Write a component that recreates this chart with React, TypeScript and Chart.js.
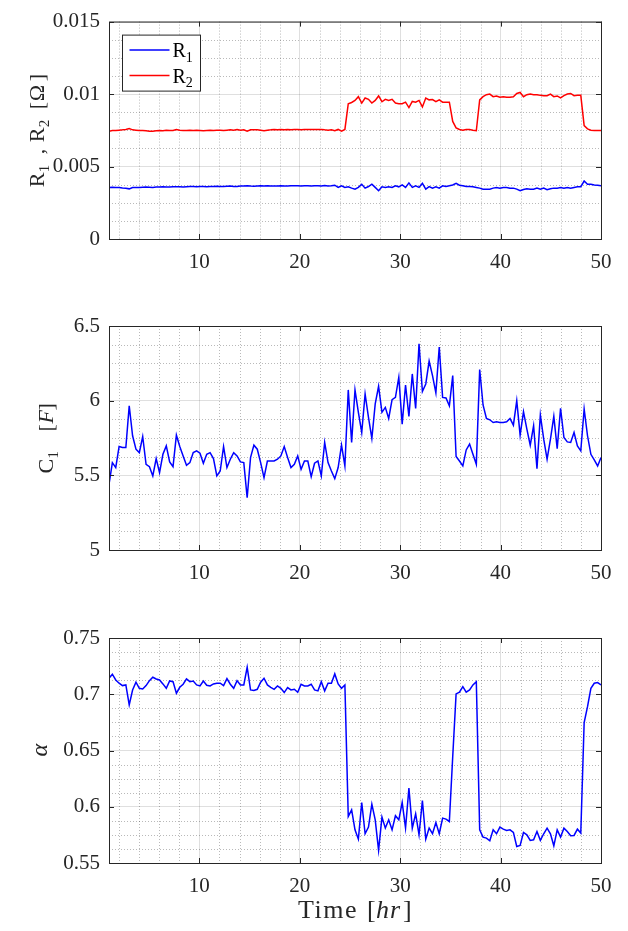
import React, { useEffect, useRef } from 'react';
import { Chart, registerables } from 'chart.js';

Chart.register(...registerables);

// ---------------- data ----------------
const T_START = 1;
const T_END = 50;

const R1 = [
  0.00356, 0.00357, 0.00355, 0.00356, 0.00352, 0.0035, 0.00346, 0.00355, 0.00356, 0.00355,
  0.00357, 0.00358, 0.00357, 0.00356, 0.00358, 0.00359, 0.0036, 0.00359, 0.00358, 0.0036,
  0.00361, 0.0036, 0.00359, 0.00361, 0.00362, 0.00362, 0.00361, 0.00363, 0.00362, 0.00361,
  0.00362, 0.00363, 0.00364, 0.00363, 0.00362, 0.00364, 0.00365, 0.00363, 0.00362, 0.00366,
  0.00365, 0.00368, 0.00365, 0.00364, 0.00366, 0.00367, 0.00366, 0.00368, 0.00366, 0.00365,
  0.00366, 0.00367, 0.00366, 0.00365, 0.00367, 0.00368, 0.00367, 0.00366, 0.00368, 0.00367,
  0.00366, 0.00368, 0.00367, 0.00366, 0.00369, 0.00366,
  0.00367, 0.00371, 0.00356, 0.00367, 0.00356, 0.0036, 0.00351, 0.00344, 0.00356,
  0.00378, 0.00351, 0.00362, 0.00378, 0.00356, 0.00333, 0.0036, 0.00356, 0.0036, 0.00356,
  0.00367, 0.0036, 0.00373, 0.00356, 0.00387, 0.00356, 0.00367, 0.00356, 0.00384, 0.00344,
  0.00362, 0.00351, 0.0036, 0.00351, 0.00367, 0.00362, 0.00367, 0.00373, 0.00384, 0.00371,
  0.00367, 0.00362, 0.00362, 0.0036, 0.00356, 0.00351, 0.00344, 0.00344, 0.00344, 0.00351,
  0.00356, 0.00351, 0.00356, 0.00356, 0.00351, 0.00351, 0.00344, 0.00333, 0.00342, 0.00347,
  0.00344, 0.00344, 0.00351, 0.00344, 0.00351, 0.0034, 0.00347, 0.00351, 0.00351, 0.00356,
  0.00351, 0.00356, 0.00351, 0.00356, 0.0036, 0.0036,
  0.004, 0.00378, 0.00378, 0.00373, 0.00371, 0.00367,
];

const R2 = [
  0.00744, 0.00749, 0.00749, 0.00751, 0.00753, 0.00756, 0.00762, 0.00753, 0.00751, 0.00749,
  0.00749, 0.00747, 0.00744, 0.00744, 0.00747, 0.00749, 0.00747, 0.00751, 0.00749, 0.00749,
  0.00756, 0.00751, 0.00749, 0.00749, 0.00751, 0.00749, 0.00751, 0.00749, 0.00747, 0.00749,
  0.00751, 0.00749, 0.00751, 0.00751, 0.00749, 0.00751, 0.00753, 0.00751, 0.00756, 0.00751,
  0.00753, 0.00744, 0.00753, 0.00753, 0.00753, 0.00751, 0.00747, 0.00751, 0.00753, 0.00756,
  0.00753, 0.00756, 0.00753, 0.00756, 0.00753, 0.00756, 0.00756, 0.00753, 0.00756, 0.00756,
  0.00756, 0.00756, 0.00756, 0.00756, 0.00753, 0.00751, 0.00753, 0.00747, 0.00756, 0.00744,
  0.00756,
  0.00933, 0.00942, 0.00956, 0.00982, 0.00938, 0.00973, 0.00964, 0.00938, 0.00956, 0.00987,
  0.00947, 0.00964, 0.00956, 0.00964, 0.00938, 0.00933, 0.00933, 0.00944, 0.00907, 0.00949,
  0.00944, 0.00956, 0.00911, 0.00973, 0.0096, 0.00962, 0.00947, 0.0096, 0.00944, 0.00944,
  0.00944, 0.00811, 0.00767, 0.00756, 0.00751, 0.00756, 0.00756, 0.00751, 0.00747, 0.0096,
  0.00982, 0.00996, 0.01, 0.00982, 0.00987, 0.00978, 0.00982, 0.00978, 0.00978, 0.00982,
  0.01004, 0.01011, 0.00982, 0.00996, 0.01, 0.00996, 0.00996, 0.00991, 0.00989, 0.00989,
  0.01, 0.00982, 0.00987, 0.00973, 0.00989, 0.01, 0.01004, 0.00989, 0.00991, 0.00991,
  0.00782, 0.0076, 0.00751, 0.00749, 0.00749, 0.00749,
];

const C1 = [
  5.439, 5.585, 5.552, 5.693, 5.686, 5.686, 5.966, 5.765, 5.675, 5.652,
  5.76, 5.574, 5.558, 5.496, 5.612, 5.518, 5.641, 5.697, 5.59, 5.558,
  5.769, 5.693, 5.63, 5.567, 5.585, 5.652, 5.664, 5.648, 5.581, 5.641,
  5.652, 5.612, 5.496, 5.529, 5.693, 5.552, 5.608, 5.652, 5.63, 5.59,
  5.585, 5.35, 5.619, 5.702, 5.675, 5.585, 5.484, 5.596, 5.596, 5.596,
  5.608, 5.63, 5.693, 5.619, 5.552, 5.574, 5.63, 5.54, 5.596, 5.596,
  5.491, 5.581, 5.596, 5.496, 5.72, 5.585, 5.529, 5.478, 5.552, 5.702,
  5.563,
  6.072, 5.72, 6.072, 5.922, 5.787, 6.045, 5.888, 5.747, 5.978, 6.096,
  5.922, 5.955, 5.881, 6.007, 6.022, 6.157, 5.843, 6.105, 5.895, 6.179,
  5.948, 6.381, 6.061, 6.112, 6.265, 6.168, 6.052, 6.359, 6.022, 6.018,
  5.966, 6.168, 5.626, 5.596, 5.563, 5.67, 5.709, 5.641, 5.574, 6.209,
  5.971, 5.881, 5.872, 5.854, 5.859, 5.854, 5.854, 5.859, 5.881, 5.836,
  6.0, 5.769, 5.926, 5.809, 5.702, 5.832, 5.545, 5.904, 5.742, 5.608,
  5.742, 5.895, 5.679, 5.948, 5.753, 5.724, 5.72, 5.787, 5.697, 5.664,
  5.944, 5.765, 5.641, 5.603, 5.563, 5.619,
];

const ALPHA = [
  0.7142, 0.7178, 0.7127, 0.7098, 0.7077, 0.7083, 0.6905, 0.7038, 0.7107, 0.7053,
  0.7047, 0.7077, 0.7121, 0.7151, 0.7136, 0.7127, 0.7092, 0.7053, 0.7118, 0.7112,
  0.7009, 0.7062, 0.7089, 0.7136, 0.7112, 0.7118, 0.7083, 0.7074, 0.7118, 0.708,
  0.7074, 0.7092, 0.7098, 0.7098, 0.7077, 0.7139, 0.7089, 0.7053, 0.7121, 0.7083,
  0.7083, 0.724, 0.7038, 0.7033, 0.7044, 0.7107, 0.7142, 0.7083, 0.7062, 0.7044,
  0.7074, 0.7053, 0.7015, 0.7059, 0.7038, 0.7044, 0.7018, 0.7089, 0.7074, 0.7074,
  0.7089, 0.7038, 0.703, 0.7112, 0.703, 0.7098, 0.7098, 0.7181, 0.7092, 0.7053,
  0.7083,
  0.5914, 0.5973, 0.5795, 0.5712, 0.6038, 0.576, 0.5819, 0.6023, 0.5884, 0.5612,
  0.5908, 0.581, 0.5884, 0.5795, 0.592, 0.5884, 0.6038, 0.581, 0.6165, 0.581,
  0.5937, 0.5751, 0.6056, 0.5712, 0.581, 0.576, 0.586, 0.576, 0.5899, 0.589,
  0.5869, 0.6446, 0.7003, 0.7018, 0.7068, 0.7018, 0.7038, 0.7083, 0.7112, 0.5795,
  0.573, 0.5721, 0.5698, 0.5795, 0.576, 0.5819, 0.5801, 0.5789, 0.5795, 0.5772,
  0.5647, 0.5656, 0.5772, 0.5751, 0.5701, 0.5706, 0.578, 0.5701, 0.576, 0.581,
  0.576, 0.5653, 0.5795, 0.573, 0.581, 0.578, 0.5742, 0.5745, 0.5801, 0.5766,
  0.6748, 0.689, 0.7053, 0.7098, 0.7104, 0.7083,
];

const N = ALPHA.length;
const TIME = Array.from({ length: N }, (_, i) => T_START + ((T_END - T_START) * i) / (N - 1));

const X_TICKS = [10, 20, 30, 40, 50];
const X_TICK_LABELS = ['10', '20', '30', '40', '50'];
const R_TICKS = [0, 0.005, 0.01, 0.015];
const R_TICK_LABELS = ['0', '0.005', '0.01', '0.015'];
const C_TICKS = [5, 5.5, 6, 6.5];
const C_TICK_LABELS = ['5', '5.5', '6', '6.5'];
const A_TICKS = [0.55, 0.6, 0.65, 0.7, 0.75];
const A_TICK_LABELS = ['0.55', '0.6', '0.65', '0.7', '0.75'];

// ---------------- styling ----------------
const INK = '#262626';
const SERIF = '"Liberation Serif", "Times New Roman", serif';
const GRID = 'rgba(38,38,38,0.15)';
const MINOR = 'rgba(38,38,38,0.32)';
const BLUE = '#0000ff';
const RED = '#ff0000';

Chart.defaults.font.family = SERIF;
Chart.defaults.font.size = 21;
Chart.defaults.color = INK;

type Seg = { t: string; it?: boolean; sub?: boolean; at?: number; sp?: number };

function setSpacing(ctx: CanvasRenderingContext2D, v: number) {
  const c = ctx as any;
  if ('letterSpacing' in c) c.letterSpacing = `${v}px`;
}

function drawSegs(ctx: CanvasRenderingContext2D, segs: Seg[], x0: number, y0: number, size: number) {
  let cx = x0;
  for (const s of segs) {
    const fs = s.sub ? Math.round(size * 0.7) : size;
    ctx.font = `${s.it ? 'italic ' : ''}${fs}px ${SERIF}`;
    setSpacing(ctx, s.sp || 0);
    const px = s.at !== undefined ? x0 + s.at : cx;
    ctx.fillText(s.t, px, s.sub ? y0 + size * 0.22 : y0);
    cx = px + ctx.measureText(s.t).width;
  }
  setSpacing(ctx, 0);
}

type Panel = {
  top: number;
  canvasTop: number;
  height: number;
  xHeight: number;
  xPad: number;
  series: { label: string; data: number[]; color: string }[];
  yMin: number;
  yMax: number;
  yTicks: number[];
  yLabels: string[];
  yMinor: number;
  yTitle: Seg[];
  yTitleLen: number;
  yTitleX: number;
  yTitleSize: number;
  legend?: Seg[][];
  xTitle?: Seg[];
  xTitleLen?: number;
};

const PANELS: Panel[] = [
  {
    top: 14, canvasTop: 0, height: 300, xHeight: 61, xPad: 11,
    series: [
      { label: 'R1', data: R1, color: BLUE },
      { label: 'R2', data: R2, color: RED },
    ],
    yMin: 0, yMax: 0.015, yTicks: R_TICKS, yLabels: R_TICK_LABELS, yMinor: 0.00125,
    yTitle: [
      { t: 'R', at: 0 }, { t: '1', sub: true, at: 15 }, { t: ',', at: 33 },
      { t: 'R', at: 45 }, { t: '2', sub: true, at: 60 }, { t: '[', at: 78 },
      { t: '\u03A9', at: 86 }, { t: ']', at: 106 },
    ],
    yTitleLen: 114, yTitleX: 44, yTitleSize: 22,
    legend: [
      [{ t: 'R' }, { t: '1', sub: true }],
      [{ t: 'R' }, { t: '2', sub: true }],
    ],
  },
  {
    top: 26, canvasTop: 300, height: 310, xHeight: 60, xPad: 11,
    series: [{ label: 'C1', data: C1, color: BLUE }],
    yMin: 5, yMax: 6.5, yTicks: C_TICKS, yLabels: C_TICK_LABELS, yMinor: 0.125,
    yTitle: [
      { t: 'C', at: 0 }, { t: '1', sub: true, at: 15 }, { t: '[', at: 42 },
      { t: 'F', it: true, at: 50 }, { t: ']', at: 63 },
    ],
    yTitleLen: 71, yTitleX: 53, yTitleSize: 22,
  },
  {
    top: 28, canvasTop: 610, height: 321, xHeight: 68, xPad: 11,
    series: [{ label: 'alpha', data: ALPHA, color: BLUE }],
    yMin: 0.55, yMax: 0.75, yTicks: A_TICKS, yLabels: A_TICK_LABELS, yMinor: 0.0125,
    yTitle: [{ t: '\u03B1', it: true, at: 0 }],
    yTitleLen: 12, yTitleX: 47, yTitleSize: 24,
    xTitle: [
      { t: 'Time', at: 0, sp: 1.5 }, { t: '[', at: 69 }, { t: 'hr', it: true, at: 78, sp: 1 }, { t: ']', at: 105 },
    ],
    xTitleLen: 114,
  },
];

function makePlugin(p: Panel) {
  return {
    id: 'matlabAxes',
    beforeDatasetsDraw(chart: any) {
      const ctx: CanvasRenderingContext2D = chart.ctx;
      const { left, right, top, bottom } = chart.chartArea;
      const xs = chart.scales.x;
      const ys = chart.scales.y;
      ctx.save();
      ctx.strokeStyle = MINOR;
      ctx.lineWidth = 1;
      ctx.setLineDash([1, 2]);
      for (let k = 1; k * 2 < T_END; k++) {
        const v = k * 2;
        if (v <= T_START || X_TICKS.includes(v)) continue;
        const px = Math.round(xs.getPixelForValue(v)) + 0.5;
        ctx.beginPath();
        ctx.moveTo(px, top);
        ctx.lineTo(px, bottom);
        ctx.stroke();
      }
      const nMinor = Math.round((p.yMax - p.yMin) / p.yMinor);
      for (let k = 1; k < nMinor; k++) {
        if (k % 4 === 0) continue;
        const v = p.yMin + k * p.yMinor;
        const py = Math.round(ys.getPixelForValue(v)) + 0.5;
        ctx.beginPath();
        ctx.moveTo(left, py);
        ctx.lineTo(right, py);
        ctx.stroke();
      }
      ctx.restore();
    },
    afterDatasetsDraw(chart: any) {
      const ctx: CanvasRenderingContext2D = chart.ctx;
      const { left, right, top, bottom } = chart.chartArea;
      const xs = chart.scales.x;
      const ys = chart.scales.y;
      ctx.save();
      ctx.strokeStyle = INK;
      ctx.lineWidth = 1;
      ctx.setLineDash([]);
      ctx.strokeRect(left + 0.5, top + 0.5, right - left, bottom - top);
      const TL = 5;
      ctx.beginPath();
      for (const v of X_TICKS) {
        const px = Math.round(xs.getPixelForValue(v)) + 0.5;
        ctx.moveTo(px, bottom);
        ctx.lineTo(px, bottom - TL);
        ctx.moveTo(px, top);
        ctx.lineTo(px, top + TL);
      }
      for (const v of p.yTicks) {
        const py = Math.round(ys.getPixelForValue(v)) + 0.5;
        ctx.moveTo(left, py);
        ctx.lineTo(left + TL, py);
        ctx.moveTo(right, py);
        ctx.lineTo(right - TL, py);
      }
      ctx.stroke();

      if (p.legend) {
        const bx = left + 13.5;
        const by = top + 13.5;
        const bw = 78;
        const bh = 56;
        ctx.fillStyle = '#ffffff';
        ctx.fillRect(bx, by, bw, bh);
        ctx.strokeStyle = INK;
        ctx.strokeRect(bx, by, bw, bh);
        p.legend.forEach((segs, i) => {
          const ly = by + 15 + i * 25.5;
          ctx.strokeStyle = chart.data.datasets[i].borderColor;
          ctx.lineWidth = 1.5;
          ctx.beginPath();
          ctx.moveTo(bx + 7, ly);
          ctx.lineTo(bx + 47, ly);
          ctx.stroke();
          ctx.fillStyle = '#000000';
          ctx.textAlign = 'left';
          ctx.textBaseline = 'alphabetic';
          drawSegs(ctx, segs, bx + 50, ly + 7, 20);
        });
      }
      ctx.restore();
    },
    afterDraw(chart: any) {
      const ctx: CanvasRenderingContext2D = chart.ctx;
      const { left, right, top, bottom } = chart.chartArea;
      ctx.save();
      ctx.fillStyle = INK;
      ctx.textAlign = 'left';
      ctx.textBaseline = 'alphabetic';
      ctx.translate(p.yTitleX, (top + bottom) / 2);
      ctx.rotate(-Math.PI / 2);
      drawSegs(ctx, p.yTitle, -p.yTitleLen / 2, 0, p.yTitleSize);
      ctx.restore();
      if (p.xTitle) {
        ctx.save();
        ctx.fillStyle = INK;
        ctx.textAlign = 'left';
        ctx.textBaseline = 'alphabetic';
        drawSegs(ctx, p.xTitle, (left + right) / 2 - (p.xTitleLen || 0) / 2, bottom + 55, 26);
        ctx.restore();
      }
    },
  };
}

function PanelChart({ p }: { p: Panel }) {
  const ref = useRef<HTMLCanvasElement | null>(null);
  useEffect(() => {
    if (!ref.current) return;
    const tickFont = { family: SERIF, size: 21, style: 'normal' as const, weight: 'normal' as const };
    const chart = new Chart(ref.current, {
      type: 'line',
      data: {
        datasets: p.series.map((s) => ({
          label: s.label,
          data: TIME.map((t, i) => ({ x: t, y: s.data[i] })),
          borderColor: s.color,
          backgroundColor: s.color,
          borderWidth: 1.5,
          pointRadius: 0,
          tension: 0,
          fill: false,
        })),
      },
      options: {
        responsive: false,
        animation: false,
        devicePixelRatio: 1,
        events: [],
        font: tickFont,
        layout: { padding: { left: 0, right: 27, top: p.top, bottom: 0 } },
        plugins: { legend: { display: false }, tooltip: { enabled: false } },
        scales: {
          x: {
            type: 'linear',
            position: 'bottom',
            min: T_START,
            max: T_END,
            afterBuildTicks: (s: any) => {
              s.ticks = X_TICKS.map((v) => ({ value: v }));
            },
            afterFit: (s: any) => {
              s.height = p.xHeight;
            },
            grid: { color: GRID, lineWidth: 1, drawTicks: false },
            border: { display: false },
            ticks: {
              color: INK,
              font: tickFont,
              padding: p.xPad,
              maxRotation: 0,
              minRotation: 0,
              autoSkip: false,
              callback: (_v: any, i: number) => X_TICK_LABELS[i],
            },
          },
          y: {
            type: 'linear',
            position: 'left',
            min: p.yMin,
            max: p.yMax,
            afterBuildTicks: (s: any) => {
              s.ticks = p.yTicks.map((v) => ({ value: v }));
            },
            afterFit: (s: any) => {
              s.width = 109;
            },
            grid: { color: GRID, lineWidth: 1, drawTicks: false },
            border: { display: false },
            ticks: {
              color: INK,
              font: tickFont,
              padding: 9,
              autoSkip: false,
              callback: (_v: any, i: number) => p.yLabels[i],
            },
          },
        },
      } as any,
      plugins: [makePlugin(p)],
    });
    return () => chart.destroy();
  }, [p]);
  return (
    <canvas
      ref={ref}
      width={628}
      height={p.height}
      style={{ position: 'absolute', left: 0, top: p.canvasTop, width: 628, height: p.height }}
    />
  );
}

export default function App() {
  return (
    <div style={{ position: 'absolute', left: 0, top: 0, width: 628, height: 931, background: '#ffffff', overflow: 'hidden' }}>
      {PANELS.map((p, i) => (
        <PanelChart key={i} p={p} />
      ))}
    </div>
  );
}
